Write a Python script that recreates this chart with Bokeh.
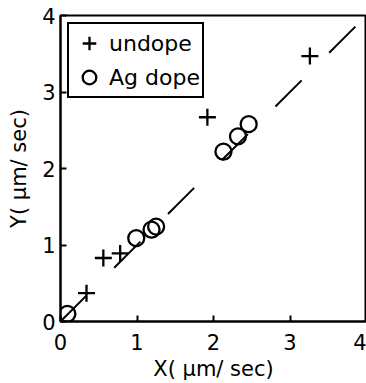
from bokeh.plotting import figure
from bokeh.embed import file_html
from bokeh.resources import INLINE
from bokeh.models import Range1d, FixedTicker, Legend, LegendItem

undope_x = [0.34, 0.56, 0.78, 1.92, 3.26]
undope_y = [0.37, 0.83, 0.89, 2.67, 3.47]
agdope_x = [0.09, 0.99, 1.19, 1.25, 2.13, 2.32, 2.46]
agdope_y = [0.10, 1.09, 1.20, 1.24, 2.22, 2.42, 2.58]
fit_x = [0.0, 4.0]
fit_y = [0.0, 4.0]
ticks = [0, 1, 2, 3, 4]

FONT = "DejaVu Sans"

p = figure(width=366, height=383, output_backend="svg", toolbar_location=None,
           x_range=Range1d(0, 4), y_range=Range1d(0, 4),
           min_border_left=60, min_border_right=0, min_border_top=15, min_border_bottom=62)
p.background_fill_color = "white"
p.border_fill_color = "white"
p.grid.visible = False
p.outline_line_color = "black"
p.outline_line_width = 2
p.outline_line_alpha = 1

for ax in (p.xaxis[0], p.yaxis[0]):
    ax.ticker = FixedTicker(ticks=ticks)
    ax.axis_line_width = 2
    ax.axis_line_color = "black"
    ax.major_tick_in = 6
    ax.major_tick_out = 0
    ax.major_tick_line_width = 2
    ax.minor_tick_line_color = None
    ax.major_label_text_font = FONT
    ax.major_label_text_font_size = "21px"
    ax.major_label_text_color = "black"
    ax.axis_label_text_font = FONT
    ax.axis_label_text_font_size = "21px"
    ax.axis_label_text_font_style = "normal"
    ax.axis_label_text_color = "black"

p.xaxis.axis_label = "X( μm/ sec)"
p.yaxis.axis_label = "Y( μm/ sec)"
p.xaxis.major_label_standoff = 12
p.yaxis.major_label_standoff = 5
p.xaxis.axis_label_standoff = 4
p.yaxis.axis_label_standoff = 8

p.line(fit_x, fit_y, line_color="black", line_width=2, line_dash="37 39")
r1 = p.scatter(undope_x, undope_y, marker="cross", size=17, line_color="black", line_width=2.3)
r2 = p.scatter(agdope_x, agdope_y, marker="circle", size=16, line_color="black",
               fill_color=None, line_width=2.3)

legend = Legend(items=[LegendItem(label="undope", renderers=[r1]),
                       LegendItem(label="Ag dope", renderers=[r2])],
                location="top_left")
legend.label_text_font = FONT
legend.label_text_font_size = "22px"
legend.label_text_color = "black"
legend.border_line_color = "black"
legend.border_line_width = 2
legend.border_line_alpha = 1
legend.margin = 7
legend.padding = 2
legend.spacing = 0
legend.glyph_width = 36
legend.glyph_height = 34
legend.label_height = 34
legend.label_standoff = 2
legend.background_fill_alpha = 1
p.add_layout(legend)

open("out.html", "w").write(file_html(p, INLINE))
